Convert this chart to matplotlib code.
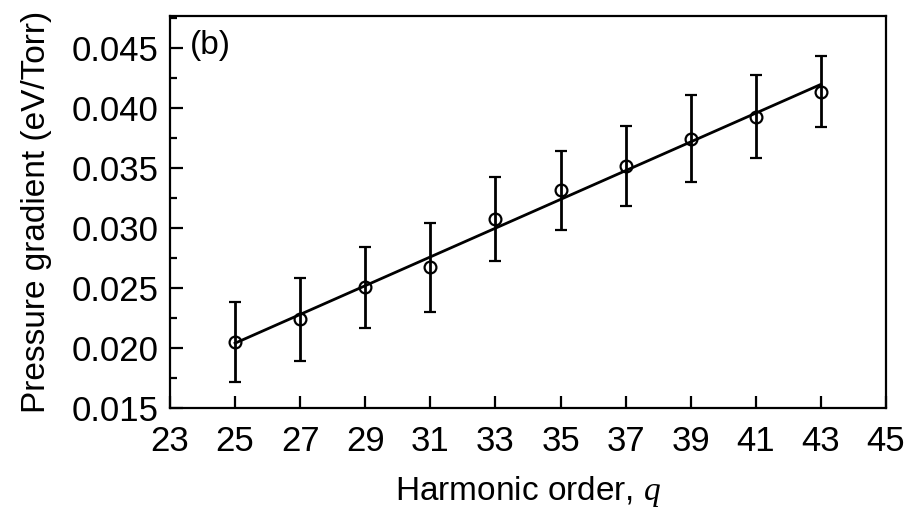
import numpy as np
import matplotlib
matplotlib.use("Agg")
import matplotlib.pyplot as plt
from matplotlib.ticker import MultipleLocator

plt.rcParams["font.family"] = ["Liberation Sans", "DejaVu Sans"]
plt.rcParams["mathtext.fontset"] = "custom"
plt.rcParams["mathtext.it"] = "Liberation Serif:italic"

# harmonic order and measured pressure gradient (eV/Torr)
harmonic_order = [25, 27, 29, 31, 33, 35, 37, 39, 41, 43]
gradient = [0.02053, 0.02242, 0.02506, 0.02672, 0.03075,
            0.03317, 0.03519, 0.03747, 0.03931, 0.04139]
gradient_err = [0.00333, 0.00346, 0.00335, 0.00373, 0.00352,
                0.00330, 0.00337, 0.00365, 0.00345, 0.00295]

x_ticks = [23, 25, 27, 29, 31, 33, 35, 37, 39, 41, 43, 45]
y_ticks = [0.015, 0.020, 0.025, 0.030, 0.035, 0.040, 0.045]

fig = plt.figure(figsize=(9.12, 5.08), dpi=100, facecolor="white")
ax = fig.add_axes([0.1864, 0.1969, 0.7851, 0.7716])

x = np.asarray(harmonic_order, dtype=float)
y = np.asarray(gradient)
slope, intercept = np.polyfit(x, y, 1)
ax.plot(x[[0, -1]], slope * x[[0, -1]] + intercept, color="black", lw=2.0, zorder=2)

ax.errorbar(
    x, y, yerr=gradient_err,
    fmt="o", mfc="none", mec="black", ms=8.5, mew=1.6,
    ecolor="black", elinewidth=2.0, capsize=4.3, capthick=2.0, zorder=3,
)

ax.set_xlim(23, 45)
ax.set_ylim(0.015, 0.0477)
ax.set_xticks(x_ticks)
ax.set_yticks(y_ticks)
ax.set_yticklabels([f"{v:.3f}" for v in y_ticks])
ax.yaxis.set_minor_locator(MultipleLocator(0.0025))

for side in ax.spines.values():
    side.set_linewidth(1.6)
ax.tick_params(axis="both", which="major", direction="in", length=9, width=1.6,
               labelsize=25)
ax.tick_params(axis="y", which="major", pad=8)
ax.tick_params(axis="x", which="major", pad=12)
ax.tick_params(axis="y", which="minor", direction="in", length=5, width=1.6)
ax.tick_params(top=False, right=False)

ax.set_ylabel("Pressure gradient (eV/Torr)", fontsize=24, labelpad=14)
ax.set_xlabel(r"Harmonic order, $q$", fontsize=24, labelpad=12)
ax.text(0.028, 0.925, "(b)", transform=ax.transAxes, fontsize=24, va="center", ha="left")

fig.savefig("out.png", dpi=100, facecolor="white")
